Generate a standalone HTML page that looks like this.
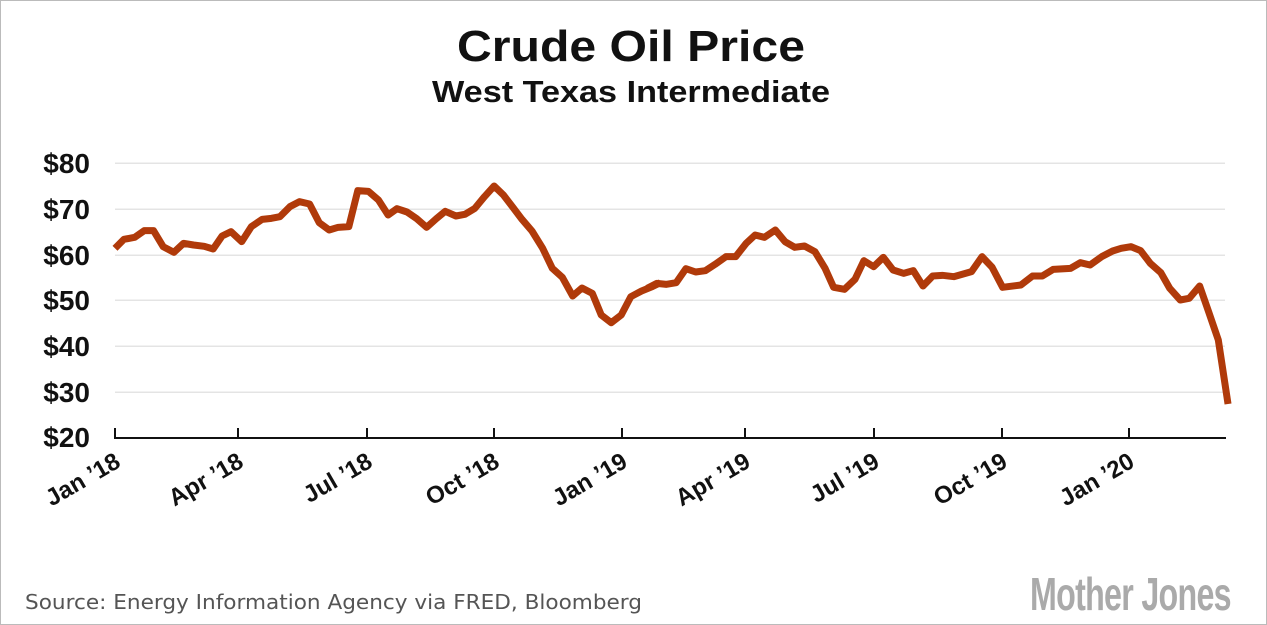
<!DOCTYPE html>
<html><head><meta charset="utf-8"><style>
html,body{margin:0;padding:0;background:#fff;}
svg{display:block;}
</style></head><body>
<svg width="1267" height="625" viewBox="0 0 1267 625" xmlns="http://www.w3.org/2000/svg">
<rect x="0.5" y="0.5" width="1266" height="624" fill="#fff" stroke="#bbb"/>
<text x="631" y="61" text-anchor="middle" font-family="Liberation Sans, sans-serif" font-weight="bold" font-size="44" fill="#111" textLength="348" lengthAdjust="spacingAndGlyphs">Crude Oil Price</text>
<text x="631" y="102" text-anchor="middle" font-family="Liberation Sans, sans-serif" font-weight="bold" font-size="31" fill="#111" textLength="398" lengthAdjust="spacingAndGlyphs">West Texas Intermediate</text>
<g stroke="#e4e4e4" stroke-width="1.5">
<line x1="115" x2="1225" y1="163.3" y2="163.3"/>
<line x1="115" x2="1225" y1="209.3" y2="209.3"/>
<line x1="115" x2="1225" y1="255.3" y2="255.3"/>
<line x1="115" x2="1225" y1="300.3" y2="300.3"/>
<line x1="115" x2="1225" y1="346.3" y2="346.3"/>
<line x1="115" x2="1225" y1="392.3" y2="392.3"/>
</g>
<g font-family="Liberation Sans, sans-serif" font-weight="bold" font-size="28" fill="#111" text-anchor="end">
<text x="90" y="173">$80</text><text x="90" y="219">$70</text><text x="90" y="265">$60</text>
<text x="90" y="310">$50</text><text x="90" y="356">$40</text><text x="90" y="402">$30</text><text x="90" y="447">$20</text>
</g>
<g stroke="#111" stroke-width="2">
<line x1="114" x2="1226" y1="438" y2="438"/>
<line x1="115" x2="115" y1="428" y2="438"/><line x1="238" x2="238" y1="428" y2="438"/>
<line x1="367" x2="367" y1="428" y2="438"/><line x1="494" x2="494" y1="428" y2="438"/>
<line x1="622" x2="622" y1="428" y2="438"/><line x1="745" x2="745" y1="428" y2="438"/>
<line x1="874" x2="874" y1="428" y2="438"/><line x1="1002" x2="1002" y1="428" y2="438"/>
<line x1="1129" x2="1129" y1="428" y2="438"/>
</g>
<g font-family="Liberation Sans, sans-serif" font-weight="bold" font-size="24" fill="#111" text-anchor="end">
<text transform="translate(122,466) rotate(-30)">Jan ’18</text>
<text transform="translate(245,466) rotate(-30)">Apr ’18</text>
<text transform="translate(374,466) rotate(-30)">Jul ’18</text>
<text transform="translate(501,466) rotate(-30)">Oct ’18</text>
<text transform="translate(629,466) rotate(-30)">Jan ’19</text>
<text transform="translate(752,466) rotate(-30)">Apr ’19</text>
<text transform="translate(881,466) rotate(-30)">Jul ’19</text>
<text transform="translate(1009,466) rotate(-30)">Oct ’19</text>
<text transform="translate(1136,466) rotate(-30)">Jan ’20</text>
</g>
<g fill="none" stroke="#b03a0a" stroke-width="7" stroke-linejoin="round" stroke-linecap="butt">
<polyline vector-effect="non-scaling-stroke" transform="translate(115,150) scale(0.357,0.33333) translate(-40,0)" points="40,295 65,268 95,262 122,242 148,242 175,290 205,307 232,280 260,285 290,289 315,297 340,258 365,245 395,275 422,230 452,208 478,205 502,200 530,170 557,155 585,162 612,218 640,240 665,232 695,230 720,122 750,124 778,150 805,195 830,176 858,186 885,206 913,232 940,206 965,184 995,198 1020,193 1048,175 1075,140 1102,108 1128,135 1153,170 1180,208 1208,243 1238,295 1265,355 1293,382 1322,438 1348,414 1377,430 1402,495 1430,518 1458,495 1485,440 1515,423 1545,410 1568,398"/>
<polyline vector-effect="non-scaling-stroke" transform="translate(745,150) scale(0.3886,0.33333) translate(-252,0)" points="0,415 25,400 50,403 75,398 100,356 125,366 150,362 175,343 203,320 228,320 255,280 278,255 302,262 330,240 355,275 380,292 405,288 432,305 458,355 480,412 508,418 535,388 558,332 583,350 608,322 633,360 660,370 685,362 710,408 735,378 760,376 790,380 835,365 862,320 888,352 915,412 962,405 992,378 1017,378 1045,358 1090,355 1115,338 1140,345 1170,320 1198,303 1220,295 1245,290 1270,302 1295,340 1322,368 1345,415 1372,450 1395,445 1422,408 1445,485 1470,570 1495,762"/>
</g>
<text x="25" y="609" font-family="DejaVu Sans, sans-serif" font-size="20" fill="#555" textLength="617" lengthAdjust="spacingAndGlyphs">Source: Energy Information Agency via FRED, Bloomberg</text>
<text transform="translate(1030,610) scale(0.7,1)" font-family="Liberation Sans, sans-serif" font-weight="bold" font-size="46" fill="#aaa" letter-spacing="-1">Mother Jones</text>
</svg>
</body></html>
